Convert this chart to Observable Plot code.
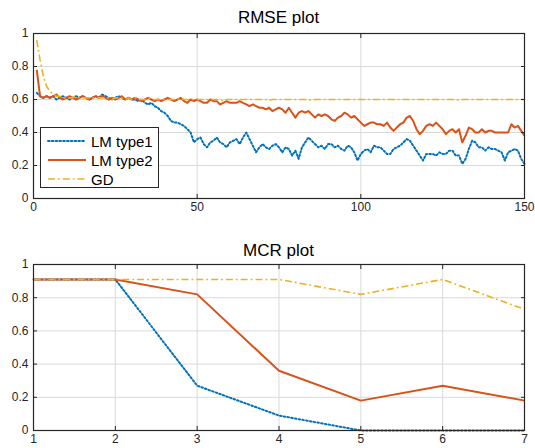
<!DOCTYPE html>
<html>
<head>
<meta charset="utf-8">
<script src="https://cdn.jsdelivr.net/npm/d3@7"></script>
<script src="https://cdn.jsdelivr.net/npm/@observablehq/plot@0.6"></script>
<style>
  body { margin: 0; background: #fff; font-family: "Liberation Sans", Arial, sans-serif; }
  #wrap { position: relative; width: 535px; height: 448px; overflow: hidden; }
  .title { position: absolute; left: 33px; width: 491px; text-align: center; font-size: 17px; color: #000; line-height: 20px; z-index: 2; }
  .panel { position: absolute; left: 0; z-index: 1; }
  #legend { position: absolute; left: 40px; top: 127px; width: 119px; height: 61px; border: 1px solid #262626; background: #fff; font-size: 15px; color: #000; box-sizing: border-box; z-index: 3; }
  #legend .row { position: absolute; left: 0; height: 18px; display: flex; align-items: center; }
  #legend svg { margin-left: 6px; margin-right: 4px; }
</style>
</head>
<body>
<div id="wrap">
  <div class="panel" id="top" style="top:25px"></div>
  <div class="panel" id="bottom" style="top:256px"></div>
  <div class="title" style="top:8px">RMSE plot</div>
  <div class="title" style="top:241px">MCR plot</div>
  <div id="legend"></div>
</div>
<script>
// ---------- RMSE plot data (iterations 1..150) ----------
const seriesNames = ["LM type1", "LM type2", "GD"];
const lm1Rmse = [
  0.64,0.62,0.61,0.62,0.61,0.62,0.60,0.61,0.62,0.61,
  0.60,0.61,0.62,0.61,0.62,0.61,0.60,0.61,0.62,0.61,
  0.63,0.62,0.61,0.60,0.61,0.62,0.61,0.60,0.61,0.60,
  0.60,0.59,0.60,0.58,0.57,0.58,0.56,0.55,0.53,0.52,
  0.50,0.47,0.46,0.46,0.45,0.44,0.42,0.40,0.34,0.36,
  0.37,0.33,0.31,0.34,0.35,0.37,0.34,0.33,0.31,0.34,
  0.35,0.36,0.33,0.37,0.40,0.36,0.32,0.28,0.31,0.33,
  0.31,0.30,0.32,0.33,0.31,0.28,0.31,0.30,0.26,0.29,
  0.24,0.31,0.34,0.37,0.35,0.33,0.31,0.32,0.30,0.33,
  0.33,0.31,0.32,0.30,0.29,0.32,0.31,0.28,0.23,0.27,
  0.29,0.30,0.28,0.32,0.31,0.31,0.29,0.27,0.27,0.30,
  0.31,0.32,0.34,0.36,0.35,0.32,0.29,0.26,0.23,0.27,
  0.27,0.27,0.26,0.28,0.27,0.27,0.29,0.29,0.26,0.26,
  0.21,0.24,0.30,0.35,0.34,0.31,0.31,0.29,0.31,0.30,
  0.30,0.29,0.28,0.23,0.28,0.29,0.30,0.29,0.24,0.21
];
const lm2Rmse = [
  0.78,0.62,0.61,0.62,0.61,0.62,0.63,0.61,0.60,0.61,
  0.62,0.61,0.60,0.61,0.62,0.61,0.60,0.61,0.62,0.61,
  0.62,0.61,0.60,0.61,0.60,0.61,0.62,0.60,0.61,0.60,
  0.61,0.60,0.59,0.60,0.61,0.60,0.59,0.60,0.59,0.60,
  0.61,0.60,0.59,0.60,0.61,0.59,0.58,0.60,0.59,0.60,
  0.59,0.58,0.58,0.60,0.59,0.59,0.57,0.58,0.59,0.58,
  0.58,0.58,0.59,0.58,0.57,0.56,0.57,0.56,0.55,0.55,
  0.54,0.55,0.53,0.54,0.55,0.54,0.52,0.55,0.52,0.49,
  0.52,0.53,0.52,0.53,0.51,0.49,0.51,0.50,0.51,0.50,
  0.48,0.47,0.49,0.50,0.52,0.51,0.49,0.50,0.48,0.46,
  0.44,0.45,0.46,0.46,0.45,0.45,0.44,0.46,0.43,0.41,
  0.43,0.45,0.46,0.49,0.50,0.47,0.42,0.39,0.41,0.44,
  0.45,0.44,0.46,0.44,0.42,0.39,0.41,0.42,0.40,0.42,
  0.34,0.38,0.43,0.42,0.40,0.40,0.42,0.40,0.41,0.41,
  0.40,0.40,0.40,0.40,0.40,0.45,0.43,0.44,0.41,0.38
];
const gdRmse = [
  0.96,0.84,0.74,0.68,0.65,0.63,0.62,0.62,0.61,0.61,
  0.61,0.61,0.62,0.61,0.61,0.61,0.61,0.61,0.61,0.61,
  0.61,0.61,0.61,0.60,0.61,0.61,0.61,0.60,0.61,0.60,
  0.61,0.60,0.60,0.60,0.61,0.60,0.60,0.60,0.60,0.60,
  0.60,0.60,0.60,0.60,0.61,0.60,0.60,0.60,0.60,0.60,
  0.60,0.60,0.60,0.60,0.60,0.60,0.60,0.59,0.60,0.60,
  0.60,0.60,0.60,0.60,0.60,0.60,0.60,0.60,0.60,0.60,
  0.60,0.595,0.60,0.60,0.60,0.60,0.60,0.60,0.60,0.60,
  0.60,0.60,0.60,0.60,0.595,0.60,0.60,0.60,0.60,0.60,
  0.60,0.60,0.60,0.60,0.60,0.60,0.60,0.60,0.60,0.60,
  0.60,0.60,0.60,0.60,0.60,0.60,0.60,0.60,0.60,0.60,
  0.60,0.60,0.60,0.60,0.60,0.60,0.60,0.60,0.60,0.60,
  0.60,0.60,0.60,0.60,0.60,0.60,0.60,0.60,0.60,0.595,
  0.60,0.60,0.60,0.60,0.60,0.60,0.60,0.60,0.60,0.60,
  0.60,0.60,0.60,0.60,0.60,0.60,0.60,0.60,0.60,0.60
];
const rmseXTicks = [0, 50, 100, 150];
const yTicks = [0, 0.2, 0.4, 0.6, 0.8, 1];

// ---------- MCR plot data ----------
const mcrX = [1, 2, 3, 4, 5, 6, 7];
const lm1Mcr = [0.91, 0.91, 0.27, 0.09, 0.0, 0.0, 0.0];
const lm2Mcr = [0.91, 0.91, 0.82, 0.36, 0.18, 0.27, 0.18];
const gdMcr  = [0.91, 0.91, 0.91, 0.91, 0.82, 0.91, 0.73];

// ---------- styles ----------
const colors = {"LM type1": "#0072BD", "LM type2": "#D95319", "GD": "#EDB120"};
const dashes = {"LM type1": "1.6,2.2", "LM type2": null, "GD": "7,3,1.8,3"};
const widths = {"LM type1": 2, "LM type2": 2, "GD": 1.6};
const axisColor = "#262626";

function rows(xs, ys) { return ys.map((v, i) => ({x: xs[i], y: v})); }
const iters = lm1Rmse.map((_, i) => i + 1);
const rmseSeries = {"LM type1": rows(iters, lm1Rmse), "LM type2": rows(iters, lm2Rmse), "GD": rows(iters, gdRmse)};
const mcrSeries = {"LM type1": rows(mcrX, lm1Mcr), "LM type2": rows(mcrX, lm2Mcr), "GD": rows(mcrX, gdMcr)};

function lineMarks(series) {
  return seriesNames.map(n => Plot.line(series[n], {
    x: "x", y: "y", stroke: colors[n], strokeWidth: widths[n],
    strokeDasharray: dashes[n], strokeLinejoin: "round", strokeLinecap: n === "LM type1" ? "round" : "butt"
  }));
}

function panel(series, xDomain, xTicks, height, mt, mb) {
  const tickFont = {fontSize: 12, fill: axisColor};
  return Plot.plot({
    width: 535, height, marginLeft: 33, marginRight: 11, marginTop: mt, marginBottom: mb,
    style: {fontFamily: "Liberation Sans, Arial, sans-serif", fontSize: "12px", color: axisColor, background: "transparent"},
    x: {domain: xDomain, ticks: xTicks},
    y: {domain: [0, 1], ticks: yTicks},
    marks: [
      Plot.gridX(xTicks, {stroke: "#d9d9d9", strokeOpacity: 1}),
      Plot.gridY(yTicks, {stroke: "#d9d9d9", strokeOpacity: 1}),
      ...lineMarks(series),
      Plot.frame({stroke: axisColor, strokeWidth: 1.2}),
      Plot.axisX(xTicks, {anchor: "bottom", tickSize: -4, tickPadding: 8, label: null, tickFormat: d => String(d), ...tickFont}),
      Plot.axisX(xTicks, {anchor: "top", tickSize: -4, label: null, tickFormat: () => ""}),
      Plot.axisY(yTicks, {anchor: "left", tickSize: -4, tickPadding: 9, label: null, tickFormat: d => String(d), ...tickFont}),
      Plot.axisY(yTicks, {anchor: "right", tickSize: -4, label: null, tickFormat: () => ""})
    ]
  });
}

document.getElementById("top").append(panel(rmseSeries, [0, 150], rmseXTicks, 200, 8, 27));
document.getElementById("bottom").append(panel(mcrSeries, [1, 7], mcrX, 192, 8, 18));

// legend
const legend = document.getElementById("legend");
seriesNames.forEach((n, i) => {
  const row = document.createElement("div");
  row.className = "row";
  row.style.top = (4 + i * 19) + "px";
  const ns = "http://www.w3.org/2000/svg";
  const s = document.createElementNS(ns, "svg");
  s.setAttribute("width", 40); s.setAttribute("height", 10);
  const l = document.createElementNS(ns, "line");
  l.setAttribute("x1", 1); l.setAttribute("x2", 39); l.setAttribute("y1", 5); l.setAttribute("y2", 5);
  l.setAttribute("stroke", colors[n]); l.setAttribute("stroke-width", widths[n]);
  if (dashes[n]) l.setAttribute("stroke-dasharray", dashes[n]);
  if (n === "LM type1") l.setAttribute("stroke-linecap", "round");
  s.appendChild(l);
  const t = document.createElement("span");
  t.textContent = n;
  row.appendChild(s); row.appendChild(t);
  legend.appendChild(row);
});
</script>
</body>
</html>
